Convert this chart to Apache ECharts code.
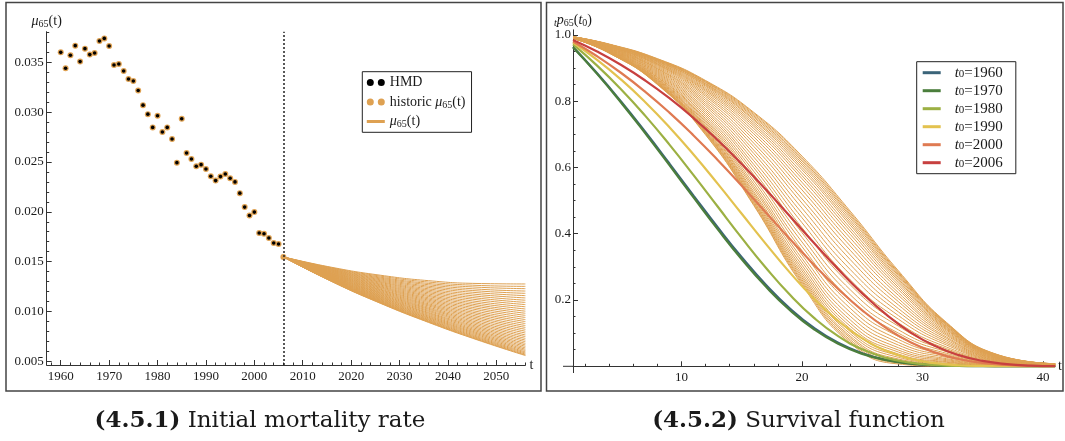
<!DOCTYPE html>
<html><head><meta charset="utf-8">
<script src="https://cdn.jsdelivr.net/npm/echarts@6/dist/echarts.min.js"></script>
<style>html,body{margin:0;padding:0;background:#fff}#c{width:1065px;height:441px}</style>
</head><body><div id="c"></div>
<script>
// ---------------- data: left panel ----------------
const hmdStartYear = 1960;
const hmdValues = [0.0360,0.0344,0.0357,0.03667,0.03507,0.03637,0.03577,0.03593,0.03713,0.0374,
  0.03663,0.03473,0.03483,0.03413,0.03333,0.03313,0.03217,0.0307,0.0298,0.02847,
  0.02963,0.0280,0.02847,0.0273,0.02493,0.02933,0.0259,0.0253,0.02457,0.02473,
  0.0243,0.02357,0.02313,0.02353,0.0238,0.02337,0.0230,0.02187,0.02047,0.01963,
  0.01997,0.01787,0.0178,0.01737,0.01687,0.01677];
const historicLastYear = 2006;
const historicLastValue = 0.01547;
const projYears = [2006, 2016, 2026, 2036, 2046, 2056];
const projMu = [
[.01547,.01443,.01364,.01309,.01281,.01276],
[.01547,.01438,.01355,.01295,.01262,.01252],
[.01547,.01434,.01345,.01281,.01244,.01229],
[.01547,.01429,.01336,.01268,.01225,.01205],
[.01547,.01424,.01327,.01254,.01207,.01182],
[.01547,.01420,.01318,.01241,.01189,.01159],
[.01547,.01415,.01309,.01227,.01171,.01136],
[.01547,.01411,.01300,.01214,.01153,.01113],
[.01547,.01406,.01292,.01201,.01135,.01091],
[.01547,.01402,.01283,.01188,.01118,.01069],
[.01547,.01397,.01274,.01175,.01100,.01047],
[.01547,.01393,.01266,.01162,.01083,.01025],
[.01547,.01389,.01257,.01150,.01066,.01003],
[.01547,.01384,.01249,.01137,.01050,.00982],
[.01547,.01380,.01241,.01125,.01033,.00961],
[.01547,.01376,.01233,.01113,.01017,.00940],
[.01547,.01372,.01224,.01101,.01000,.00919],
[.01547,.01368,.01217,.01089,.00984,.00899],
[.01547,.01364,.01209,.01077,.00969,.00879],
[.01547,.01360,.01201,.01066,.00953,.00859],
[.01547,.01356,.01193,.01055,.00938,.00840],
[.01547,.01352,.01186,.01043,.00923,.00821],
[.01547,.01349,.01179,.01032,.00908,.00802],
[.01547,.01345,.01171,.01022,.00893,.00784],
[.01547,.01341,.01164,.01011,.00879,.00765],
[.01547,.01338,.01157,.01001,.00865,.00748],
[.01547,.01334,.01150,.00990,.00851,.00730],
[.01547,.01331,.01144,.00981,.00838,.00713],
[.01547,.01328,.01137,.00971,.00825,.00697],
[.01547,.01324,.01131,.00961,.00812,.00680],
[.01547,.01321,.01125,.00952,.00800,.00665],
[.01547,.01318,.01119,.00943,.00788,.00650],
[.01547,.01315,.01113,.00935,.00777,.00635],
[.01547,.01313,.01108,.00927,.00766,.00621],
[.01547,.01310,.01102,.00919,.00755,.00608],
[.01547,.01307,.01098,.00912,.00745,.00595],
[.01547,.01305,.01093,.00905,.00736,.00584],
[.01547,.01303,.01089,.00899,.00728,.00573],
[.01547,.01301,.01085,.00894,.00721,.00564],
[.01547,.01300,.01083,.00890,.00716,.00558]];
const leftXTicks = [1960,1970,1980,1990,2000,2010,2020,2030,2040,2050];
const leftYTicks = [0.005,0.010,0.015,0.020,0.025,0.030,0.035];

// ---------------- data: right panel ----------------
const survT = [1,4,8,12,16,20,24,28,32,36,41];
const projSurv = [
[.989,.945,.850,.698,.485,.246,.070,.007,.000,.000,.002],
[.989,.945,.851,.700,.488,.251,.075,.010,.002,.0005,.0021],
[.989,.945,.852,.703,.492,.256,.080,.014,.004,.001,.0022],
[.989,.946,.853,.705,.496,.261,.086,.018,.005,.0015,.0022],
[.989,.946,.854,.707,.500,.267,.091,.022,.007,.002,.0023],
[.989,.947,.855,.710,.505,.273,.098,.027,.009,.0027,.0024],
[.990,.947,.857,.713,.510,.280,.105,.032,.012,.0033,.0025],
[.990,.948,.858,.716,.515,.288,.113,.037,.014,.0041,.0026],
[.990,.948,.860,.720,.521,.296,.121,.043,.017,.0049,.0028],
[.990,.949,.862,.723,.527,.305,.130,.049,.020,.0058,.0029],
[.990,.949,.864,.727,.535,.315,.140,.056,.023,.0067,.0031],
[.990,.950,.866,.732,.542,.325,.151,.064,.027,.0077,.0032],
[.990,.951,.868,.737,.550,.336,.163,.072,.031,.0088,.0034],
[.990,.952,.871,.742,.559,.349,.175,.081,.035,.0100,.0036],
[.991,.953,.873,.747,.568,.361,.188,.090,.039,.0113,.0038],
[.991,.954,.876,.753,.578,.375,.202,.100,.044,.0126,.0040],
[.991,.955,.879,.759,.588,.389,.216,.110,.049,.0139,.0042],
[.991,.956,.882,.765,.599,.403,.231,.121,.053,.0153,.0044],
[.991,.957,.885,.771,.609,.418,.246,.131,.058,.0168,.0047],
[.992,.958,.888,.777,.620,.433,.261,.142,.064,.0182,.0049],
[.992,.959,.891,.784,.631,.448,.277,.153,.069,.0197,.0051],
[.992,.960,.894,.790,.642,.462,.292,.164,.074,.0211,.0053],
[.992,.961,.897,.796,.652,.477,.307,.174,.079,.0226,.0056],
[.992,.962,.899,.802,.663,.492,.322,.185,.084,.0240,.0058],
[.992,.963,.902,.808,.673,.505,.336,.195,.088,.0253,.0060],
[.993,.964,.905,.814,.683,.519,.350,.204,.093,.0266,.0062],
[.993,.965,.908,.819,.692,.532,.363,.214,.097,.0279,.0064],
[.993,.965,.910,.824,.701,.544,.375,.222,.101,.0291,.0066],
[.993,.966,.912,.829,.709,.555,.387,.231,.105,.0302,.0068],
[.993,.967,.914,.833,.717,.566,.398,.238,.109,.0312,.0069],
[.993,.968,.916,.837,.724,.575,.408,.245,.112,.0321,.0071],
[.993,.968,.918,.841,.730,.584,.417,.252,.115,.0330,.0072],
[.994,.969,.920,.845,.736,.593,.426,.258,.118,.0338,.0074],
[.994,.969,.921,.848,.742,.600,.433,.263,.120,.0346,.0075],
[.994,.970,.923,.851,.746,.607,.440,.268,.123,.0352,.0076],
[.994,.970,.924,.853,.751,.613,.447,.273,.125,.0358,.0077],
[.994,.971,.925,.856,.755,.619,.453,.277,.127,.0364,.0078],
[.994,.971,.926,.858,.759,.624,.458,.281,.129,.0369,.0078],
[.994,.971,.927,.860,.763,.629,.463,.284,.130,.0374,.0079],
[.994,.972,.928,.862,.766,.634,.468,.288,.132,.0379,.0080]];
const cohortYears = ['1960','1970','1980','1990','2000','2006'];
const cohortT = [1,3,5,7,9,11,13,15,17,19,21,23,25,27,29,31,33,35,37,39,41];
const surv1960 = [.9631,.8839,.7981,.7068,.6116,.5149,.4196,.3288,.2461,.1742,.1156,.0709,.0396,.0198,.0087,.0033,.0010,.0003,0,0,0];
const surv1970 = [.9625,.8821,.7951,.7027,.6067,.5093,.4136,.3228,.2404,.1692,.1115,.0678,.0375,.0186,.0080,.0030,.0009,.0003,0,0,0];
const surv1980 = [.9710,.9071,.8351,.7553,.6687,.5767,.4819,.3874,.2973,.2156,.1459,.0908,.0511,.0254,.0109,.0039,.0011,.0002,0,0,0];
const surv1990 = [.9766,.9244,.8645,.7967,.7213,.6389,.5510,.4601,.3694,.2826,.2039,.1369,.0843,.0467,.0227,.0094,.0032,.0009,.0002,0,0];
const surv2000 = [.9798,.9352,.8847,.8280,.7652,.6964,.6225,.5445,.4641,.3837,.3058,.2333,.1689,.1149,.0726,.0420,.0219,.0101,.0040,.0013,.0004];
const surv2006 = [.9844,.9493,.9087,.8619,.8087,.7488,.6824,.6101,.5330,.4527,.3718,.2931,.2201,.1557,.1025,.0619,.0337,.0162,.0067,.0023,.0006];
const cohortSurv = [surv1960, surv1970, surv1980, surv1990, surv2000, surv2006];
const rightXTicks = [10,20,30,40];
const rightYTicks = [0.2,0.4,0.6,0.8,1.0];

// ---------------- styles ----------------
const SERIF = "'Liberation Serif','Times New Roman',serif";
const CAPTION_FONT = "'DejaVu Serif',serif";
const ORANGE = '#dea152';
const AX = '#333';
const TXT = '#1a1a1a';
const cohortColors = ['#3b6479','#4b7e3c','#9cb043','#e3c24f','#df7a52','#c7403f'];

const leftXMinor = [], leftYMinor = [], rightXMinor = [], rightYMinor = [];
for (let y = 1958; y <= 2056; y += 2) leftXMinor.push(y);
for (let k = 5; k <= 38; k++) leftYMinor.push(k / 1000);
for (let t = 2; t <= 40; t += 2) rightXMinor.push(t);
for (let k = 1; k <= 20; k++) rightYMinor.push(+(k * 0.05).toFixed(2));

function rich(size, lh) {
  const sub = Math.round(size * 0.7), subLh = Math.round(lh * 0.55);
  return {
    i: {fontFamily: SERIF, fontStyle: 'italic', fontSize: size, lineHeight: lh, color: TXT},
    s: {fontFamily: SERIF, fontSize: sub, lineHeight: subLh, verticalAlign: 'bottom', color: TXT},
    si: {fontFamily: SERIF, fontStyle: 'italic', fontSize: sub, lineHeight: subLh, verticalAlign: 'bottom', color: TXT}
  };
}
function axis(o) {
  return Object.assign({
    type: 'value',
    axisLine: {show: true, onZero: false, lineStyle: {color: AX, width: 1}},
    splitLine: {show: false}
  }, o);
}
const labelStyle = {color: TXT, fontFamily: SERIF, fontSize: 13};

const xAxis = [
  axis({gridIndex: 0, min: 1957.1, max: 2056,
    axisTick: {show: true, inside: true, length: 5, lineStyle: {color: AX}, customValues: leftXTicks},
    axisLabel: Object.assign({show: true, margin: 5, customValues: leftXTicks, formatter: v => String(v)}, labelStyle),
    name: 't', nameLocation: 'end', nameGap: 4,
    nameTextStyle: {fontFamily: SERIF, fontSize: 14, color: TXT}}),
  axis({gridIndex: 0, min: 1957.1, max: 2056, position: 'bottom',
    axisLine: {show: false}, axisLabel: {show: false},
    axisTick: {show: true, inside: true, length: 2.5, lineStyle: {color: AX}, customValues: leftXMinor}}),
  axis({gridIndex: 1, min: 1, max: 41,
    axisTick: {show: true, inside: true, length: 5, lineStyle: {color: AX}, customValues: rightXTicks},
    axisLabel: Object.assign({show: true, margin: 5, customValues: rightXTicks, formatter: v => String(v)}, labelStyle),
    name: 't', nameLocation: 'end', nameGap: 3,
    nameTextStyle: {fontFamily: SERIF, fontSize: 14, color: TXT}}),
  axis({gridIndex: 1, min: 1, max: 41, position: 'bottom',
    axisLine: {show: false}, axisLabel: {show: false},
    axisTick: {show: true, inside: true, length: 2.5, lineStyle: {color: AX}, customValues: rightXMinor}})
];
const yAxis = [
  axis({gridIndex: 0, min: 0.00463, max: 0.03807, position: 'left',
    axisTick: {show: true, inside: true, length: 5, lineStyle: {color: AX}, customValues: leftYTicks},
    axisLabel: Object.assign({show: true, margin: 3, customValues: leftYTicks, formatter: v => v.toFixed(3)}, labelStyle),
    name: '{i|μ}{s|65}(t)', nameLocation: 'end', nameGap: 2,
    nameTextStyle: {fontFamily: SERIF, fontSize: 14, color: TXT, lineHeight: 16, rich: rich(14, 16)}}),
  axis({gridIndex: 0, min: 0.00463, max: 0.03807, position: 'left',
    axisLine: {show: false}, axisLabel: {show: false},
    axisTick: {show: true, inside: true, length: 2.5, lineStyle: {color: AX}, customValues: leftYMinor}}),
  axis({gridIndex: 1, min: 0, max: 1.015, position: 'left',
    axisTick: {show: true, inside: true, length: 5, lineStyle: {color: AX}, customValues: rightYTicks},
    axisLabel: Object.assign({show: true, margin: 2, customValues: rightYTicks, formatter: v => v.toFixed(1)}, labelStyle),
    name: '{si|t}{i|p}{s|65}({i|t}{s|0})', nameLocation: 'end', nameGap: 1,
    nameTextStyle: {fontFamily: SERIF, fontSize: 14, color: TXT, lineHeight: 16, rich: rich(14, 16)}}),
  axis({gridIndex: 1, min: 0, max: 1.015, position: 'left',
    axisLine: {show: false}, axisLabel: {show: false},
    axisTick: {show: true, inside: true, length: 2.5, lineStyle: {color: AX}, customValues: rightYMinor}})
];

const series = [];
projMu.forEach(vals => series.push({
  type: 'line', name: 'mu', xAxisIndex: 0, yAxisIndex: 0,
  data: projYears.map((y, j) => [y, vals[j]]),
  smooth: true, symbol: 'none', silent: true, z: 2,
  lineStyle: {width: 1, color: ORANGE}, itemStyle: {color: ORANGE}
}));
const hmdData = hmdValues.map((v, i) => [hmdStartYear + i, v]);
series.push({
  type: 'scatter', name: 'historic', xAxisIndex: 0, yAxisIndex: 0,
  data: hmdData.concat([[historicLastYear, historicLastValue]]),
  symbolSize: 6, itemStyle: {color: ORANGE, opacity: 1}, z: 3, silent: true,
  markLine: {silent: true, symbol: 'none', label: {show: false},
    lineStyle: {type: [2, 2], color: '#222', width: 1.5},
    data: [{xAxis: historicLastYear}]}
});
series.push({
  type: 'scatter', name: 'HMD', xAxisIndex: 0, yAxisIndex: 0,
  data: hmdData, symbolSize: 3.6, itemStyle: {color: '#000', opacity: 1}, z: 4, silent: true
});
projSurv.forEach(vals => series.push({
  type: 'line', name: 'proj', xAxisIndex: 2, yAxisIndex: 2,
  data: survT.map((t, j) => [t, vals[j]]),
  smooth: true, symbol: 'none', silent: true, z: 2,
  lineStyle: {width: 1, color: ORANGE}, itemStyle: {color: ORANGE}
}));
cohortSurv.forEach((vals, k) => series.push({
  type: 'line', name: 'c' + cohortYears[k], xAxisIndex: 2, yAxisIndex: 2,
  data: cohortT.map((t, j) => [t, vals[j]]),
  smooth: true, symbol: 'none', silent: true, z: 5,
  lineStyle: {width: 2.2, color: cohortColors[k]}, itemStyle: {color: cohortColors[k]}
}));

const dotsIcon = 'path://M0,3.5A3.5,3.5,0,1,1,7,3.5A3.5,3.5,0,1,1,0,3.5ZM11,3.5A3.5,3.5,0,1,1,18,3.5A3.5,3.5,0,1,1,11,3.5Z';
const lineIcon = 'path://M0,0L0.01,0L0,0.01ZM0,2L18,2L18,5L0,5ZM18,7L17.99,7L18,6.99Z';
const leftNames = {HMD: 'HMD', historic: 'historic {i|μ}{s|65}(t)', mu: '{i|μ}{s|65}(t)'};

const option = {
  animation: false,
  backgroundColor: '#fff',
  grid: [
    {left: 46.7, top: 31.7, width: 478.7, height: 333.3},
    {left: 573, top: 29.8, width: 483.2, height: 336.5}
  ],
  xAxis, yAxis, series,
  legend: [
    {orient: 'vertical', left: 362.3, top: 71.7, itemWidth: 18, itemHeight: 7, itemGap: 3.5,
     padding: [2.8, 6, 2.8, 4.5], borderColor: '#222', borderWidth: 1, backgroundColor: '#fff',
     selectedMode: false,
     data: [{name: 'HMD', icon: dotsIcon}, {name: 'historic', icon: dotsIcon}, {name: 'mu', icon: lineIcon}],
     formatter: n => leftNames[n],
     textStyle: {fontFamily: SERIF, fontSize: 14, color: TXT, lineHeight: 16, rich: rich(14, 16)}},
    {orient: 'vertical', left: 916.7, top: 61.7, itemWidth: 18, itemHeight: 3, itemGap: 3,
     padding: [3.5, 13, 3.5, 6], borderColor: '#222', borderWidth: 1, backgroundColor: '#fff',
     selectedMode: false, icon: 'rect',
     data: cohortYears.map(y => 'c' + y),
     formatter: n => '{i|t}{s|0}=' + n.slice(1),
     textStyle: {fontFamily: SERIF, fontSize: 15, color: TXT, lineHeight: 14, padding: [0, 0, 0, 9], rich: rich(15, 14)}}
  ],
  graphic: [
    {type: 'rect', silent: true, shape: {x: 6, y: 2.5, width: 535, height: 388.5},
     style: {fill: 'none', stroke: '#444', lineWidth: 1.5}},
    {type: 'rect', silent: true, shape: {x: 546.5, y: 2.5, width: 516.5, height: 388.5},
     style: {fill: 'none', stroke: '#444', lineWidth: 1.5}},
    {type: 'line', silent: true, shape: {x1: 563, y1: 366.3, x2: 573, y2: 366.3},
     style: {stroke: AX, lineWidth: 1}},
    {type: 'line', silent: true, shape: {x1: 573.5, y1: 366, x2: 573.5, y2: 373},
     style: {stroke: AX, lineWidth: 1}},
    {type: 'text', silent: true, x: 260, y: 421,
     style: {text: '{b|(4.5.1)} Initial mortality rate', fontFamily: CAPTION_FONT, fontSize: 23, fill: TXT,
       align: 'center', verticalAlign: 'middle',
       rich: {b: {fontFamily: CAPTION_FONT, fontSize: 23, fontWeight: 'bold', fill: TXT}}}},
    {type: 'text', silent: true, x: 798.5, y: 421,
     style: {text: '{b|(4.5.2)} Survival function', fontFamily: CAPTION_FONT, fontSize: 23, fill: TXT,
       align: 'center', verticalAlign: 'middle',
       rich: {b: {fontFamily: CAPTION_FONT, fontSize: 23, fontWeight: 'bold', fill: TXT}}}}
  ]
};
const chart = echarts.init(document.getElementById('c'), null, {renderer: 'canvas'});
chart.setOption(option);
</script></body></html>
